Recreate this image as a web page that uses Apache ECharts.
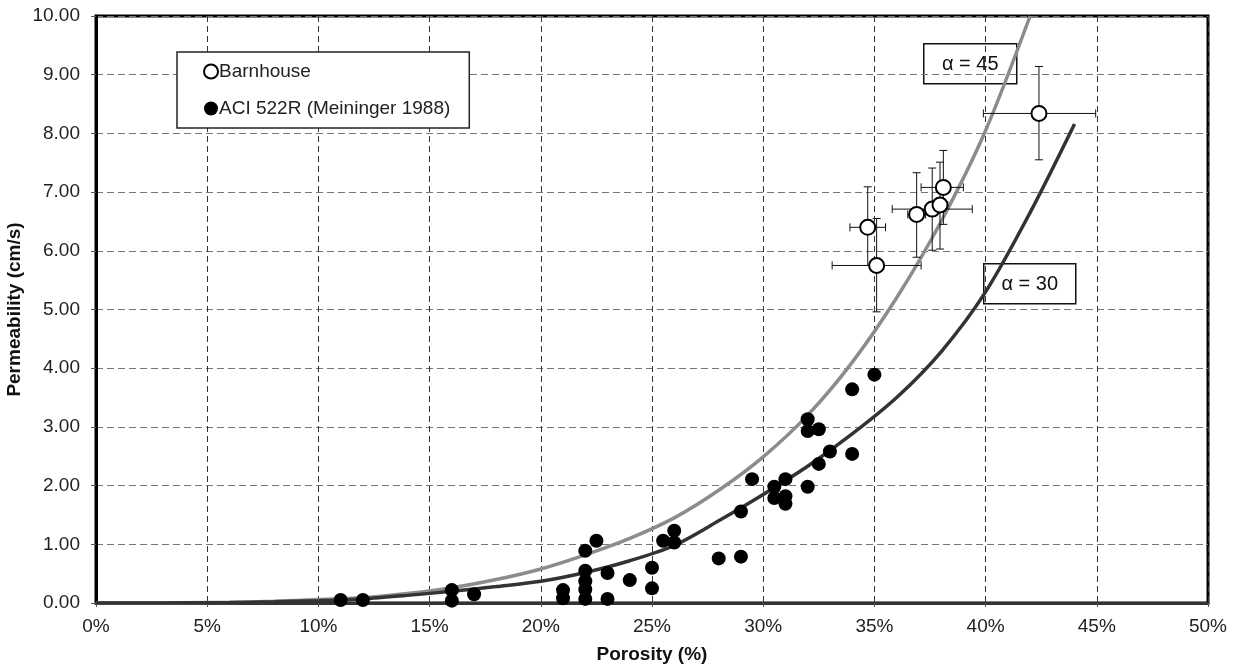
<!DOCTYPE html>
<html lang="en">
	<head>
		<meta charset="UTF-8" />
		<title>Permeability vs Porosity</title>
		<script src="https://cdn.jsdelivr.net/npm/echarts@6/dist/echarts.min.js"></script>
		<style>
			html, body { margin: 0; padding: 0; background: #fff; }
			#chart { width: 1237px; height: 667px; }
		</style>
	</head>
	<body>
		<div id="chart"></div>
		<script>
			// Barnhouse points with error bars: x, y, x low, x high, y low, y high
			const barnX = [34.7, 35.1, 36.9, 37.6, 37.95, 38.1, 42.4]
			const barnY = [6.4, 5.75, 6.62, 6.71, 6.78, 7.08, 8.34]
			const barnXLo = [33.9, 33.1, 36.5, 35.8, 37.6, 37.1, 39.9]
			const barnXHi = [35.5, 37.1, 37.3, 39.4, 38.3, 39.0, 44.95]
			const barnYLo = [5.75, 4.96, 5.89, 6.01, 6.03, 6.45, 7.55]
			const barnYHi = [7.09, 6.55, 7.33, 7.41, 7.51, 7.71, 9.14]

			// ACI 522R (Meininger 1988)
			const aciX = [11, 12, 16, 16, 17, 21, 21, 22, 22, 22, 22, 22, 22.5, 23, 23, 24, 25, 25, 25.5, 26, 26,
				28, 29, 29, 29.5, 30.5, 30.5, 31, 31, 31, 32, 32, 32, 32.5, 32.5, 33, 34, 34, 35]
			const aciY = [0.05, 0.05, 0.22, 0.04, 0.15, 0.22, 0.08, 0.89, 0.55, 0.37, 0.23, 0.07, 1.06, 0.51, 0.07, 0.39, 0.6, 0.25, 1.06, 1.23, 1.03,
				0.76, 0.79, 1.56, 2.11, 1.98, 1.79, 2.11, 1.82, 1.69, 1.98, 3.13, 2.93, 2.96, 2.37, 2.58, 3.64, 2.54, 3.89]

			// curves
			const a45X = [0, 2, 4, 6, 8, 10, 12, 14, 16, 18, 20, 22, 24, 26, 28, 30, 32, 34, 36, 38, 40, 42]
			const a45Y = [0, 0, 0.005, 0.01, 0.03, 0.06, 0.09, 0.16, 0.26, 0.4, 0.58, 0.82, 1.1, 1.45, 1.92, 2.49, 3.2, 4.1, 5.2, 6.5, 8.05, 10.0]
			const a30X = [0, 2, 4, 6, 8, 10, 12, 14, 16, 18, 20, 22, 24, 26, 28, 30, 32, 34, 36, 38, 40, 42, 44]
			const a30Y = [0, 0, 0.003, 0.008, 0.02, 0.04, 0.07, 0.13, 0.2, 0.28, 0.37, 0.52, 0.72, 0.98, 1.4, 1.85, 2.33, 2.88, 3.5, 4.28, 5.3, 6.65, 8.16]

			const font = 'Liberation Sans, Arial, sans-serif'
			const zip = (xs, ys) => xs.map((x, i) => [x, ys[i]])

			const chart = echarts.init(document.getElementById('chart'), null, { renderer: 'canvas' })

			function errorBars(params, api) {
				const x = api.value(0), y = api.value(1)
				const p = api.coord([x, y])
				const xl = api.coord([api.value(2), y])[0]
				const xh = api.coord([api.value(3), y])[0]
				const yl = api.coord([x, api.value(4)])[1]
				const yh = api.coord([x, api.value(5)])[1]
				const c = 4
				const st = { stroke: '#111', lineWidth: 1 }
				const seg = (x1, y1, x2, y2) => ({ type: 'line', shape: { x1, y1, x2, y2 }, style: st })
				return {
					type: 'group',
					children: [
						seg(xl, p[1], xh, p[1]),
						seg(xl, p[1] - c, xl, p[1] + c),
						seg(xh, p[1] - c, xh, p[1] + c),
						seg(p[0], yl, p[0], yh),
						seg(p[0] - c, yl, p[0] + c, yl),
						seg(p[0] - c, yh, p[0] + c, yh)
					]
				}
			}

			const option = {
				backgroundColor: '#fff',
				animation: false,
				textStyle: { fontFamily: font },
				grid: {
					left: 96, right: 29, top: 16, bottom: 64,
					containLabel: false, outerBoundsMode: 'none',
					show: true, borderColor: '#000', borderWidth: 3
				},
				legend: {
					data: ['Barnhouse', 'ACI 522R (Meininger 1988)'],
					orient: 'vertical',
					left: 177,
					top: 52,
					padding: [10, 19, 10, 26],
					itemGap: 18,
					itemWidth: 14,
					itemHeight: 14,
					textStyle: { fontSize: 19, color: '#222', fontFamily: font, padding: [0, 0, 0, -4] },
					borderColor: '#222',
					borderWidth: 1.5,
					backgroundColor: '#fff'
				},
				xAxis: {
					type: 'value',
					min: 0,
					max: 50,
					interval: 5,
					name: 'Porosity (%)',
					nameLocation: 'middle',
					nameGap: 42,
					nameMoveOverlap: false,
					nameTextStyle: { fontSize: 19, fontWeight: 'bold', color: '#111' },
					axisLine: { lineStyle: { color: '#333', width: 3 } },
					axisTick: { show: true, length: 4, lineStyle: { color: '#555' } },
					axisLabel: { fontSize: 19, color: '#222', margin: 14, formatter: '{value}%' },
					splitLine: { lineStyle: { color: '#333', type: [6, 4], width: 1 } }
				},
				yAxis: {
					type: 'value',
					min: 0,
					max: 10,
					interval: 1,
					name: 'Permeability (cm/s)',
					nameLocation: 'middle',
					nameGap: 72,
					nameMoveOverlap: false,
					nameTextStyle: { fontSize: 19, fontWeight: 'bold', color: '#111' },
					axisLine: { show: true, lineStyle: { color: '#000', width: 3 } },
					axisTick: { show: true, length: 5, lineStyle: { color: '#555' } },
					axisLabel: { fontSize: 19, color: '#222', margin: 16, formatter: v => v.toFixed(2) },
					splitLine: { lineStyle: { color: '#777', type: [7, 4], width: 1 } }
				},
				series: [
					{
						name: 'α = 45',
						type: 'line',
						data: zip(a45X, a45Y),
						showSymbol: false,
						smooth: 0.3,
						lineStyle: { color: '#8c8c8c', width: 3.5 },
						z: 2
					},
					{
						name: 'α = 30',
						type: 'line',
						data: zip(a30X, a30Y),
						showSymbol: false,
						smooth: 0.3,
						lineStyle: { color: '#333', width: 3.5 },
						z: 2
					},
					{
						name: 'errors',
						type: 'custom',
						renderItem: errorBars,
						data: barnX.map((x, i) => [x, barnY[i], barnXLo[i], barnXHi[i], barnYLo[i], barnYHi[i]]),
						encode: { x: [0, 2, 3], y: [1, 4, 5] },
						z: 3
					},
					{
						name: 'ACI 522R (Meininger 1988)',
						type: 'scatter',
						data: zip(aciX, aciY),
						symbolSize: 14,
						itemStyle: { color: '#000', opacity: 1 },
						z: 4
					},
					{
						name: 'Barnhouse',
						type: 'scatter',
						data: zip(barnX, barnY),
						symbolSize: 15,
						itemStyle: { color: '#fff', borderColor: '#000', borderWidth: 2, opacity: 1 },
						z: 5
					}
				],
				graphic: [
					{
						type: 'group',
						left: 923,
						top: 43,
						z: 10,
						children: [
							{ type: 'rect', shape: { x: 0, y: 0, width: 93, height: 40 }, style: { fill: '#fff', stroke: '#111', lineWidth: 1.5 } },
							{ type: 'text', x: 46.5, y: 21, style: { text: 'α = 45', font: '20px ' + font, fill: '#111', align: 'center', verticalAlign: 'middle' } }
						]
					},
					{
						type: 'group',
						left: 983,
						top: 263,
						z: 10,
						children: [
							{ type: 'rect', shape: { x: 0, y: 0, width: 92, height: 40 }, style: { fill: '#fff', stroke: '#111', lineWidth: 1.5 } },
							{ type: 'text', x: 46, y: 21, style: { text: 'α = 30', font: '20px ' + font, fill: '#111', align: 'center', verticalAlign: 'middle' } }
						]
					}
				]
			}
			chart.setOption(option)
		</script>
	</body>
</html>
